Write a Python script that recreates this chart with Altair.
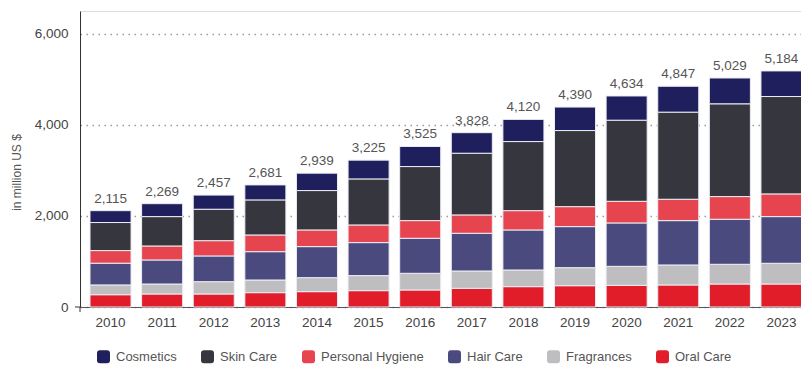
import altair as alt
import pandas as pd

years = [str(y) for y in range(2010, 2024)]
totals = [2115, 2269, 2457, 2681, 2939, 3225, 3525, 3828, 4120, 4390, 4634, 4847, 5029, 5184]
oral_care = [270, 286, 286, 315, 337, 359, 374, 410, 447, 468, 475, 484, 505, 505]
fragrances = [215, 219, 270, 278, 308, 330, 366, 381, 366, 396, 418, 439, 433, 455]
hair_care = [477, 528, 565, 622, 681, 725, 769, 828, 879, 901, 953, 974, 989, 1025]
personal_hygiene = [277, 307, 336, 367, 366, 388, 388, 403, 424, 439, 475, 469, 498, 499]
skin_care = [616, 645, 690, 770, 865, 1011, 1187, 1355, 1517, 1671, 1781, 1913, 2037, 2138]
cosmetics = [260, 284, 310, 329, 382, 412, 441, 451, 487, 515, 532, 568, 567, 562]
y_ticks = [0, 2000, 4000, 6000]

series = {
    "Oral Care": oral_care,
    "Fragrances": fragrances,
    "Hair Care": hair_care,
    "Personal Hygiene": personal_hygiene,
    "Skin Care": skin_care,
    "Cosmetics": cosmetics,
}
legend_order = ["Cosmetics", "Skin Care", "Personal Hygiene", "Hair Care", "Fragrances", "Oral Care"]
colors = ["#1e1f5c", "#36363f", "#e6454f", "#4a4a7e", "#bebec0", "#e21d2a"]

rows = []
for i, (name, vals) in enumerate(series.items()):
    for y, v in zip(years, vals):
        rows.append({"year": y, "segment": name, "value": v, "ord": i})
df = pd.DataFrame(rows)
tot_df = pd.DataFrame({"year": years, "total": totals})

FONT = "Liberation Sans"
rounded = "M -1 -0.55 Q -1 -1 -0.55 -1 L 0.55 -1 Q 1 -1 1 -0.55 L 1 0.55 Q 1 1 0.55 1 L -0.55 1 Q -1 1 -1 0.55 Z"

xscale = alt.Scale(type="band", range=[0, 732], paddingInner=0.205, paddingOuter=0.194)
yscale = alt.Scale(domain=[0, 6500], nice=False)

bars = alt.Chart(df).mark_bar(stroke="#ececf4", strokeWidth=1).encode(
    x=alt.X("year:N", scale=xscale, sort=years,
            axis=alt.Axis(title=None, labelAngle=0, ticks=False, labelPadding=8,
                          labelFontSize=13.5, labelColor="#444", domainColor="#555",
                          labelFont=FONT)),
    y=alt.Y("value:Q", stack="zero", scale=yscale,
            axis=alt.Axis(title="in million US $", values=y_ticks,
                          labelExpr="format(datum.value, ',')",
                          grid=True, gridDash=[1.5, 4.5], gridColor="#9a9a9a", gridWidth=1.4,
                          ticks=False, labelPadding=12, labelFontSize=13.5, labelColor="#444",
                          domainColor="#333", labelFont=FONT,
                          titleFont=FONT, titleFontSize=12, titleFontWeight="normal",
                          titleColor="#555", titleX=-64, titleY=161, titleAngle=-90,
                          titleAlign="center", titleBaseline="middle")),
    color=alt.Color("segment:N", scale=alt.Scale(domain=legend_order, range=colors),
                    legend=alt.Legend(title=None, orient="none", direction="horizontal",
                                      legendX=17, legendY=339, columns=6,
                                      symbolType=rounded, symbolSize=169, symbolStrokeWidth=0,
                                      symbolOpacity=1, labelFontSize=13, labelColor="#555",
                                      labelFont=FONT, labelOffset=6, columnPadding=24)),
    order=alt.Order("ord:Q", sort="ascending"),
)

labels = alt.Chart(tot_df).mark_text(baseline="bottom", dy=-5, fontSize=13.5, color="#555",
                                      font=FONT).encode(
    x=alt.X("year:N", scale=xscale, sort=years),
    y=alt.Y("total:Q", scale=yscale),
    text=alt.Text("total:Q", format=","),
)

zero_tick = alt.Chart(pd.DataFrame({"v": [0]})).mark_rule(color="#333").encode(
    x=alt.value(-5), x2=alt.value(0), y=alt.Y("v:Q", scale=yscale)
)
zero_tick2 = alt.Chart(pd.DataFrame({"v": [0]})).mark_rule(color="#333").encode(
    x=alt.value(0), y=alt.Y("v:Q", scale=yscale), y2=alt.value(301)
)

chart = alt.layer(bars, labels, zero_tick, zero_tick2).properties(
    width=721, height=296,
    autosize=alt.AutoSizeParams(type="none"),
    padding={"left": 80, "top": 11, "right": 0, "bottom": 58},
).configure_view(stroke=None).configure(background="white")

chart.save("out.html", embed_options={"renderer": "svg", "actions": False})
